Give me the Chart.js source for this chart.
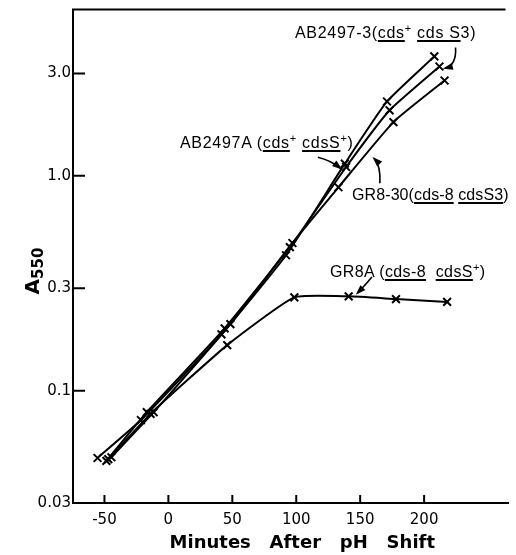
<!DOCTYPE html>
<html><head><meta charset="utf-8">
<script src="https://cdn.jsdelivr.net/npm/chart.js@4/dist/chart.umd.min.js"></script>
<style>
html,body{margin:0;padding:0;background:#fff;}
#wrap{position:relative;width:516px;height:555px;overflow:hidden;}
canvas{position:absolute;left:0;top:0;}
.lbl{position:absolute;font-family:"Liberation Sans",Arial,sans-serif;font-size:16px;color:#000;white-space:nowrap;line-height:16px;letter-spacing:0.3px;}
.lbl u{text-decoration-thickness:1.5px;text-underline-offset:2px;}
.lbl sup{font-size:11px;vertical-align:6px;line-height:0;}
#ytitle{position:absolute;left:2px;top:258px;width:60px;height:26px;line-height:26px;text-align:center;transform:rotate(-90deg);font-family:"DejaVu Sans",sans-serif;font-weight:bold;font-size:20px;color:#000;}
#ytitle sub{font-size:15px;vertical-align:-4px;}
</style></head>
<body><div id="wrap"><canvas id="c" width="516" height="555"></canvas>
<div class="lbl" style="left:295px;top:25px;letter-spacing:0.7px">AB2497-3(<u>cds</u><sup>+</sup> <u>cds S</u>3)</div>
<div class="lbl" style="left:180px;top:135px;letter-spacing:0.7px">AB2497A (<u>cds</u><sup>+</sup> <u>cdsS</u><sup>+</sup>)</div>
<div class="lbl" style="left:352px;top:187px;letter-spacing:0.1px">GR8-30(<u>cds-8</u> <u>cdsS3</u>)</div>
<div class="lbl" style="left:330px;top:264px;letter-spacing:0.4px">GR8A (<u>cds-8</u>&nbsp; <u>cdsS</u><sup>+</sup>)</div>
<div id="ytitle">A<sub>550</sub></div>
</div>
<script>
// ---- data (minutes after pH shift, A550) ----
const ab2497A_min = [-55.4, -21.5, 41.5, 92, 138, 171, 208];
const ab2497A_abs = [0.0486, 0.073, 0.183, 0.427, 1.14, 2.22, 3.60];
const ab2497_3_min = [-48.5, -16.9, 44, 95, 139, 173, 212];
const ab2497_3_abs = [0.0471, 0.0794, 0.195, 0.466, 1.10, 2.02, 3.23];
const gr830_min = [-44.6, -11.5, 48.5, 97, 133, 176, 216];
const gr830_abs = [0.049, 0.0794, 0.204, 0.487, 0.885, 1.78, 2.78];
const gr8A_min = [-47, -14, 46, 98.5, 141, 178, 218];
const gr8A_abs = [0.048, 0.078, 0.163, 0.272, 0.275, 0.267, 0.259];

const xTicks = [-50, 0, 50, 100, 150, 200];
const yTicks = [0.03, 0.1, 0.3, 1, 3];
const yTickLabels = ['0.03', '0.1', '0.3', '1.0', '3.0'];
const xTitle = 'Minutes   After   pH   Shift';

// annotation arrows in data coordinates: [start, control, end]
const arrows = [
  [[224.6, 3.96], [225.4, 3.27], [216.2, 3.17]],
  [[116.9, 1.22], [126.9, 1.18], [134.6, 1.085]],
  [[165.4, 0.924], [166.2, 1.12], [160.8, 1.207]],
  [[159.2, 0.338], [153.8, 0.309], [147.7, 0.284]]
];

function pts(xs, ys) { return xs.map((x, i) => ({x: x, y: ys[i]})); }
function ds(label, xs, ys) {
  return {
    label: label, data: pts(xs, ys),
    borderColor: '#000', borderWidth: 2, backgroundColor: '#000',
    pointStyle: 'crossRot', pointRadius: 5.5, pointBorderWidth: 2,
    pointBorderColor: '#000', tension: 0.15, fill: false
  };
}

const framePlugin = {
  id: 'frame',
  afterDraw(chart) {
    const ctx = chart.ctx, a = chart.chartArea;
    const xs = chart.scales.x, ys = chart.scales.y;
    ctx.save();
    ctx.strokeStyle = '#000';
    ctx.lineWidth = 2;
    ctx.beginPath();
    ctx.moveTo(a.left - 1, a.top); ctx.lineTo(a.right - 3, a.top);
    ctx.stroke();
    ctx.beginPath();
    xTicks.forEach(v => { const p = xs.getPixelForValue(v); ctx.moveTo(p, a.bottom); ctx.lineTo(p, a.bottom - 8); });
    yTicks.forEach(v => { const p = ys.getPixelForValue(v); ctx.moveTo(a.left, p); ctx.lineTo(a.left + 12, p); });
    ctx.stroke();
    // x axis title, centred under the tick labels
    ctx.fillStyle = '#000';
    ctx.font = 'bold 18px "DejaVu Sans"';
    ctx.textAlign = 'center';
    ctx.textBaseline = 'middle';
    ctx.fillText(xTitle, (xs.getPixelForValue(-50) + xs.getPixelForValue(200)) / 2 + 38, a.bottom + 40);
    // arrows
    ctx.lineWidth = 1.6;
    arrows.forEach(ar => {
      const P = ar.map(q => [xs.getPixelForValue(q[0]), ys.getPixelForValue(q[1])]);
      ctx.beginPath();
      ctx.moveTo(P[0][0], P[0][1]);
      ctx.quadraticCurveTo(P[1][0], P[1][1], P[2][0], P[2][1]);
      ctx.stroke();
      const ang = Math.atan2(P[2][1] - P[1][1], P[2][0] - P[1][0]);
      const L = 8, W = 3.5;
      ctx.beginPath();
      ctx.moveTo(P[2][0] + Math.cos(ang) * 2, P[2][1] + Math.sin(ang) * 2);
      ctx.lineTo(P[2][0] - Math.cos(ang) * L - Math.sin(ang) * W, P[2][1] - Math.sin(ang) * L + Math.cos(ang) * W);
      ctx.lineTo(P[2][0] - Math.cos(ang) * L + Math.sin(ang) * W, P[2][1] - Math.sin(ang) * L - Math.cos(ang) * W);
      ctx.closePath();
      ctx.fill();
    });
    ctx.restore();
  }
};

new Chart(document.getElementById('c'), {
  type: 'line',
  data: {
    datasets: [
      ds('AB2497A (cds+ cdsS+)', ab2497A_min, ab2497A_abs),
      ds('AB2497-3 (cds+ cdsS3)', ab2497_3_min, ab2497_3_abs),
      ds('GR8-30 (cds-8 cdsS3)', gr830_min, gr830_abs),
      ds('GR8A (cds-8 cdsS+)', gr8A_min, gr8A_abs)
    ]
  },
  options: {
    responsive: false,
    animation: false,
    layout: {padding: {top: 9, right: 0, bottom: 0, left: 0}},
    plugins: {legend: {display: false}, tooltip: {enabled: false}},
    scales: {
      x: {
        type: 'linear', min: -74.6, max: 266,
        afterBuildTicks: s => { s.ticks = xTicks.map(v => ({value: v})); },
        afterFit: s => { s.height = 52; },
        grid: {display: false, drawTicks: false},
        border: {display: true, color: '#000', width: 2},
        ticks: {color: '#000', padding: 10, maxRotation: 0, autoSkip: false,
          font: {family: 'DejaVu Sans', size: 15, lineHeight: 1}},
        title: {display: false}
      },
      y: {
        type: 'logarithmic', min: 0.03, max: 5.95,
        afterBuildTicks: s => { s.ticks = yTicks.map(v => ({value: v})); },
        afterFit: s => { s.width = 73; },
        grid: {display: false, drawTicks: false},
        border: {display: true, color: '#000', width: 2},
        ticks: {color: '#000', padding: 2, autoSkip: false,
          font: {family: 'DejaVu Sans', size: 15, lineHeight: 1},
          callback: (v, i) => yTickLabels[i]}
      }
    }
  },
  plugins: [framePlugin]
});
</script>
</body></html>
